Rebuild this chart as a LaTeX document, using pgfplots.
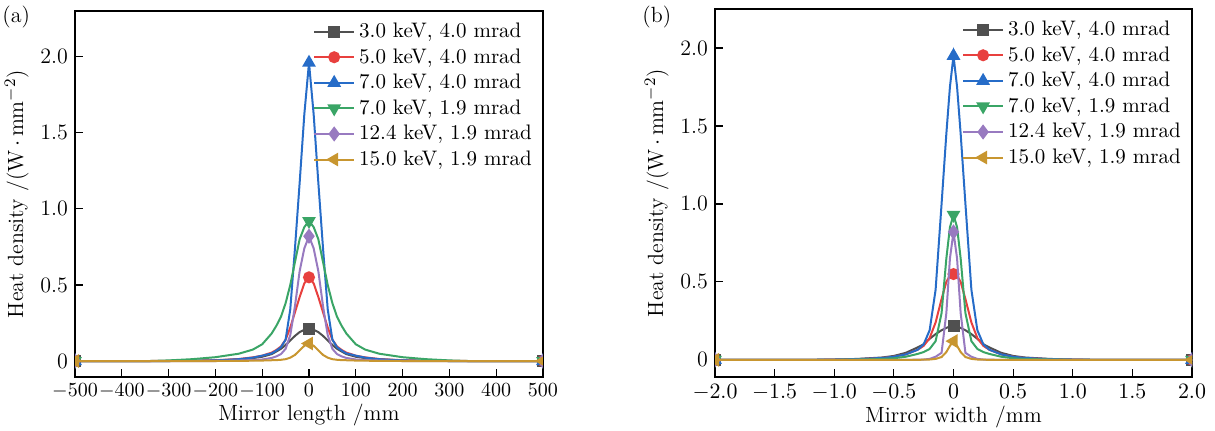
\documentclass[border=0pt]{standalone}
\usepackage{pgfplots}
\usepackage{pgfplotstable}
\pgfplotsset{compat=1.18}
\definecolor{cgray}{RGB}{80,80,80}
\definecolor{cred}{RGB}{232,64,62}
\definecolor{cblue}{RGB}{38,108,200}
\definecolor{cgreen}{RGB}{58,165,102}
\definecolor{cpurple}{RGB}{152,122,192}
\definecolor{cgold}{RGB}{200,150,48}

% panel (a): x in mm
\pgfplotstableread{
x g r b gr p o
-500 0 0 0 0 0 0
-340 0 0 0 0 0 0
-300 0 0.001 0 0.004 0 0
-250 0.001 0.002 0.001 0.012 0 0
-200 0.003 0.005 0.004 0.025 0 0
-150 0.01 0.013 0.012 0.048 0.003 0.001
-120 0.019 0.024 0.022 0.075 0.006 0.002
-100 0.028 0.035 0.035 0.11 0.01 0.003
-80 0.045 0.055 0.05 0.18 0.02 0.005
-70 0.062 0.072 0.068 0.23 0.03 0.006
-60 0.08 0.095 0.09 0.29 0.045 0.008
-50 0.105 0.14 0.14 0.38 0.08 0.012
-40 0.135 0.22 0.34 0.50 0.17 0.022
-30 0.165 0.32 0.74 0.65 0.36 0.04
-20 0.19 0.42 1.17 0.80 0.59 0.07
-10 0.205 0.51 1.62 0.88 0.74 0.10
0 0.21 0.55 1.96 0.92 0.82 0.115
10 0.205 0.51 1.62 0.88 0.74 0.10
20 0.19 0.42 1.17 0.80 0.59 0.07
30 0.165 0.32 0.74 0.65 0.36 0.04
40 0.135 0.22 0.34 0.50 0.17 0.022
50 0.105 0.14 0.14 0.38 0.08 0.012
60 0.08 0.095 0.09 0.29 0.045 0.008
70 0.062 0.072 0.068 0.23 0.03 0.006
80 0.045 0.055 0.05 0.18 0.02 0.005
100 0.028 0.035 0.035 0.11 0.01 0.003
120 0.019 0.024 0.022 0.075 0.006 0.002
150 0.01 0.013 0.012 0.048 0.003 0.001
200 0.003 0.005 0.004 0.025 0 0
250 0.001 0.002 0.001 0.012 0 0
300 0 0.001 0 0.004 0 0
340 0 0 0 0 0 0
500 0 0 0 0 0 0
}\tableA

% panel (b): x in mm
\pgfplotstableread{
x g r b gr p o
-2.0 0 0 0 0 0 0
-1.2 0 0 0 0 0 0
-1.0 0.002 0.001 0.002 0 0 0
-0.8 0.006 0.004 0.005 0.002 0 0
-0.6 0.015 0.012 0.012 0.006 0 0
-0.5 0.025 0.02 0.02 0.01 0 0
-0.4 0.045 0.035 0.035 0.02 0 0
-0.3 0.08 0.065 0.065 0.038 0.001 0
-0.25 0.10 0.09 0.10 0.05 0.002 0.001
-0.2 0.135 0.14 0.19 0.07 0.006 0.002
-0.15 0.165 0.24 0.45 0.12 0.02 0.006
-0.1 0.19 0.39 1.00 0.30 0.045 0.018
-0.06 0.205 0.50 1.45 0.65 0.30 0.05
-0.03 0.213 0.54 1.75 0.85 0.65 0.09
0 0.215 0.55 1.95 0.93 0.82 0.12
0.03 0.213 0.54 1.75 0.85 0.65 0.09
0.06 0.205 0.50 1.45 0.65 0.30 0.05
0.1 0.19 0.39 1.00 0.30 0.045 0.018
0.15 0.165 0.24 0.45 0.12 0.02 0.006
0.2 0.135 0.14 0.19 0.07 0.006 0.002
0.25 0.10 0.09 0.10 0.05 0.002 0.001
0.3 0.08 0.065 0.065 0.038 0.001 0
0.4 0.045 0.035 0.035 0.02 0 0
0.5 0.025 0.02 0.02 0.01 0 0
0.6 0.015 0.012 0.012 0.006 0 0
0.8 0.006 0.004 0.005 0.002 0 0
1.0 0.002 0.001 0.002 0 0 0
1.2 0 0 0 0 0 0
2.0 0 0 0 0 0 0
}\tableB

\pgfplotsset{
  heatstyle/.style={
    scale only axis,
    anchor=south west,
    tick align=inside,
    xtick pos=bottom,
    ytick pos=left,
    major tick length=4pt,
    axis line style={line width=0.8pt},
    every tick/.style={line width=0.6pt, black},
    tick label style={font=\fontsize{11}{13}\selectfont},
    label style={font=\fontsize{11}{13}\selectfont},
    ytick={0,0.5,1,1.5,2},
    yticklabels={0,0.5,1.0,1.5,2.0},
    ylabel={Heat density /(W\,$\cdot$\,mm$^{-2}$)},
    ylabel style={yshift=-1pt},
    clip marker paths=true,
    legend cell align=left,
    legend style={draw=none, fill=none, at={(rel axis cs:0.99,0.985)}, anchor=north east,
      row sep=0pt, inner sep=1pt, font=\fontsize{10.5}{12.5}\selectfont},
    legend image code/.code={%
      \draw[#1] plot coordinates {(10pt,0pt)(0pt,0pt)(20pt,0pt)};},
    every axis plot/.append style={line width=1pt, mark size=2.5pt},
  },
}

\begin{document}
\begin{tikzpicture}
\useasboundingbox (0,0) rectangle (607.5pt,215.5pt);
\begin{axis}[heatstyle,
  at={(37.5pt,27pt)}, width=234pt, height=183pt,
  xmin=-500, xmax=500, ymin=-0.105, ymax=2.30,
  xtick={-500,-400,...,500},
  xticklabel style={font=\fontsize{10}{12}\selectfont},
  xlabel={Mirror length /mm},
  xlabel style={yshift=4pt},
]
\addplot[cgray, mark=square*, mark indices={1,17,33}] table[x=x,y=g] {\tableA};
\addlegendentry{3.0 keV, 4.0 mrad}
\addplot[cred, mark=*, mark indices={1,17,33}] table[x=x,y=r] {\tableA};
\addlegendentry{5.0 keV, 4.0 mrad}
\addplot[cblue, mark=triangle*, mark size=3pt, mark indices={1,17,33}] table[x=x,y=b] {\tableA};
\addlegendentry{7.0 keV, 4.0 mrad}
\addplot[cgreen, mark=triangle*, mark size=3pt, mark options={rotate=180}, mark indices={1,17,33}] table[x=x,y=gr] {\tableA};
\addlegendentry{7.0 keV, 1.9 mrad}
\addplot[cpurple, mark=diamond*, mark size=3pt, mark indices={1,17,33}] table[x=x,y=p] {\tableA};
\addlegendentry{12.4 keV, 1.9 mrad}
\addplot[cgold, mark=triangle*, mark size=3pt, mark options={rotate=90}, mark indices={1,17,33}] table[x=x,y=o] {\tableA};
\addlegendentry{15.0 keV, 1.9 mrad}
\end{axis}

\begin{axis}[heatstyle,
  at={(357.5pt,27pt)}, width=238.5pt, height=184pt,
  xmin=-2, xmax=2, ymin=-0.11, ymax=2.25,
  xtick={-2,-1.5,-1,-0.5,0,0.5,1,1.5,2},
  xticklabels={$-2.0$,$-1.5$,$-1.0$,$-0.5$,$0$,$0.5$,$1.0$,$1.5$,$2.0$},
  xlabel={Mirror width /mm},
  xlabel style={yshift=4pt},
]
\addplot[cgray, mark=square*, mark indices={1,15,29}] table[x=x,y=g] {\tableB};
\addlegendentry{3.0 keV, 4.0 mrad}
\addplot[cred, mark=*, mark indices={1,15,29}] table[x=x,y=r] {\tableB};
\addlegendentry{5.0 keV, 4.0 mrad}
\addplot[cblue, mark=triangle*, mark size=3pt, mark indices={1,15,29}] table[x=x,y=b] {\tableB};
\addlegendentry{7.0 keV, 4.0 mrad}
\addplot[cgreen, mark=triangle*, mark size=3pt, mark options={rotate=180}, mark indices={1,15,29}] table[x=x,y=gr] {\tableB};
\addlegendentry{7.0 keV, 1.9 mrad}
\addplot[cpurple, mark=diamond*, mark size=3pt, mark indices={1,15,29}] table[x=x,y=p] {\tableB};
\addlegendentry{12.4 keV, 1.9 mrad}
\addplot[cgold, mark=triangle*, mark size=3pt, mark options={rotate=90}, mark indices={1,15,29}] table[x=x,y=o] {\tableB};
\addlegendentry{15.0 keV, 1.9 mrad}
\end{axis}

\node[anchor=west, inner sep=0pt, font=\fontsize{11}{13}\selectfont] at (1pt,207pt) {(a)};
\node[anchor=west, inner sep=0pt, font=\fontsize{11}{13}\selectfont] at (321pt,207pt) {(b)};
\end{tikzpicture}
\end{document}
